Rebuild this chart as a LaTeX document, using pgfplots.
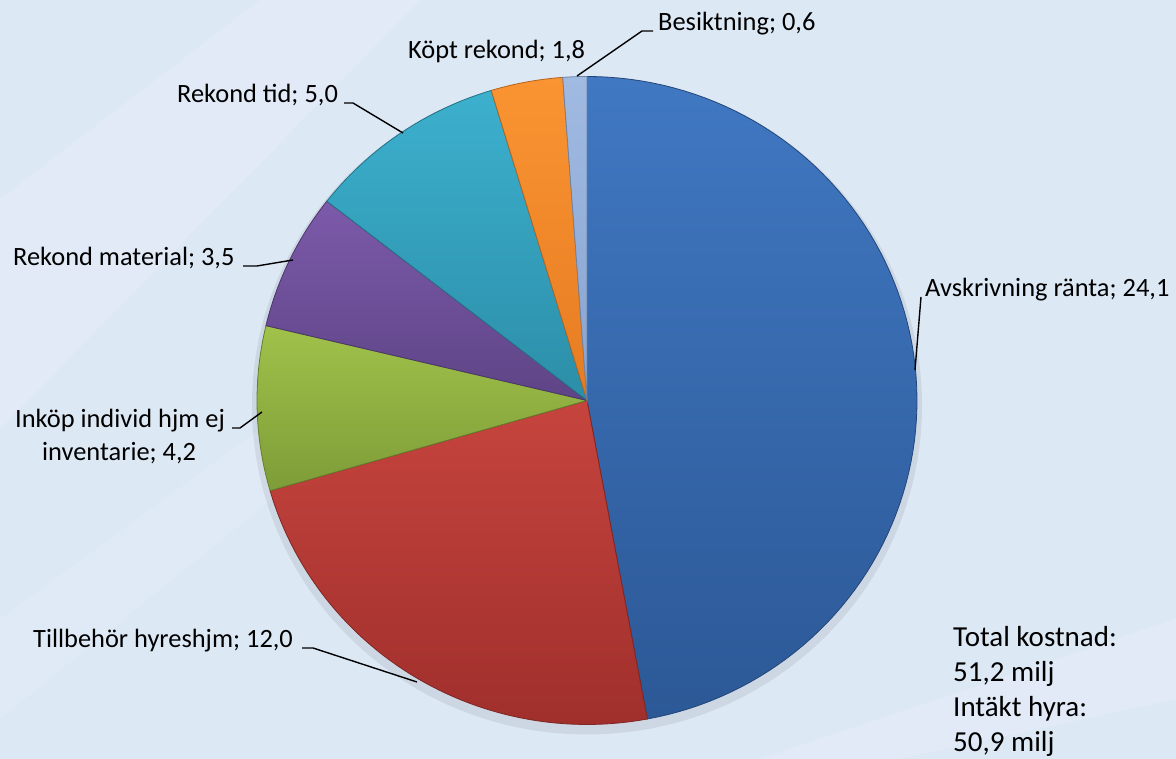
\documentclass[border=0pt]{standalone}
\usepackage{pgfplots}
\usepackage{pgfplotstable}
\pgfplotsset{compat=1.18}
\usepackage{fontspec}
\setmainfont{Carlito}

\definecolor{bgc}{RGB}{221,232,245}
\definecolor{bluehi}{RGB}{64,120,194}
\definecolor{bluelo}{RGB}{44,88,150}
\definecolor{redhi}{RGB}{198,68,62}
\definecolor{redlo}{RGB}{160,47,44}
\definecolor{greenhi}{RGB}{160,194,74}
\definecolor{greenlo}{RGB}{126,156,56}
\definecolor{purphi}{RGB}{124,90,170}
\definecolor{purplo}{RGB}{94,68,134}
\definecolor{tealhi}{RGB}{60,176,206}
\definecolor{teallo}{RGB}{44,142,168}
\definecolor{orghi}{RGB}{250,148,50}
\definecolor{orglo}{RGB}{230,124,34}
\definecolor{lbhi}{RGB}{160,186,226}
\definecolor{lblo}{RGB}{136,164,208}

\pgfplotstableread{
val
24.1
12.0
4.2
3.5
5.0
1.8
0.6
}\piedata

\newcommand\getval[2]{\pgfplotstablegetelem{#1}{val}\of\piedata\global\let#2\pgfplotsretval}
\getval{0}\vA \getval{1}\vB \getval{2}\vC \getval{3}\vD
\getval{4}\vE \getval{5}\vF \getval{6}\vG
\pgfmathsetmacro\tot{\vA+\vB+\vC+\vD+\vE+\vF+\vG}
\pgfmathsetmacro\aA{90}
\pgfmathsetmacro\aB{\aA-\vA/\tot*360}
\pgfmathsetmacro\aC{\aB-\vB/\tot*360}
\pgfmathsetmacro\aD{\aC-\vC/\tot*360}
\pgfmathsetmacro\aE{\aD-\vD/\tot*360}
\pgfmathsetmacro\aF{\aE-\vE/\tot*360}
\pgfmathsetmacro\aG{\aF-\vF/\tot*360}
\pgfmathsetmacro\aH{\aG-\vG/\tot*360}

\def\cx{587}
\def\cy{358.5}
\def\rx{330}
\def\ry{324}

\tikzset{
  slice/.style n args={2}{top color=#1, bottom color=#2, draw=#2!80!black, line width=0.8pt},
  leader/.style={black, line width=1.4pt},
  lab/.style={anchor=base west, inner sep=0pt, font=\fontsize{26.4}{31}\selectfont},
  tot/.style={anchor=base west, inner sep=0pt, font=\fontsize{29}{35}\selectfont},
}

\begin{document}
\begin{tikzpicture}
\begin{axis}[
  width=1176pt, height=759pt, scale only axis,
  xmin=0, xmax=1176, ymin=0, ymax=759,
  axis lines=none, xtick=\empty, ytick=\empty,
  clip=true,
]
% background
\fill[bgc] (rel axis cs:0,0) rectangle (rel axis cs:1,1);
\fill[white, opacity=0.12] (axis cs:0,330) -- (axis cs:0,560) -- (axis cs:260,759) -- (axis cs:420,759) -- cycle;
\fill[white, opacity=0.10] (axis cs:0,40) -- (axis cs:0,140) -- (axis cs:520,520) -- (axis cs:470,420) -- cycle;
\fill[white, opacity=0.12] (axis cs:760,0) -- (axis cs:1176,140) -- (axis cs:1176,60) -- (axis cs:900,0) -- cycle;
% shadow
\fill[black, opacity=0.07] (axis cs:\cx,\cy-5) ellipse [x radius=335, y radius=329];

\addplot[slice={bluehi}{bluelo}, samples=90, domain=\aB:\aA] ({\cx+\rx*cos(x)},{\cy+\ry*sin(x)}) -- (axis cs:\cx,\cy) -- cycle;
\addplot[slice={redhi}{redlo}, samples=60, domain=\aC:\aB] ({\cx+\rx*cos(x)},{\cy+\ry*sin(x)}) -- (axis cs:\cx,\cy) -- cycle;
\addplot[slice={greenhi}{greenlo}, samples=30, domain=\aD:\aC] ({\cx+\rx*cos(x)},{\cy+\ry*sin(x)}) -- (axis cs:\cx,\cy) -- cycle;
\addplot[slice={purphi}{purplo}, samples=30, domain=\aE:\aD] ({\cx+\rx*cos(x)},{\cy+\ry*sin(x)}) -- (axis cs:\cx,\cy) -- cycle;
\addplot[slice={tealhi}{teallo}, samples=30, domain=\aF:\aE] ({\cx+\rx*cos(x)},{\cy+\ry*sin(x)}) -- (axis cs:\cx,\cy) -- cycle;
\addplot[slice={orghi}{orglo}, samples=15, domain=\aG:\aF] ({\cx+\rx*cos(x)},{\cy+\ry*sin(x)}) -- (axis cs:\cx,\cy) -- cycle;
\addplot[slice={lbhi}{lblo}, samples=8, domain=\aH:\aG] ({\cx+\rx*cos(x)},{\cy+\ry*sin(x)}) -- (axis cs:\cx,\cy) -- cycle;

% leader lines
\addplot[leader] coordinates {(653,728) (642,728) (577,683)};
\addplot[leader] coordinates {(344,656) (353,656) (403,626)};
\addplot[leader] coordinates {(243,493) (257,493) (293,499)};
\addplot[leader] coordinates {(232,331) (240,331) (262,347)};
\addplot[leader] coordinates {(302,111) (313,111) (417,77)};
\addplot[leader] coordinates {(921,462) (915,389)};

% labels
\node[lab] at (axis cs:658,728) {Besiktning; 0,6};
\node[lab] at (axis cs:408,700) {Köpt rekond; 1,8};
\node[lab] at (axis cs:177,656) {Rekond tid; 5,0};
\node[lab] at (axis cs:13,493) {Rekond material; 3,5};
\node[lab] at (axis cs:15,331) {Inköp individ hjm ej};
\node[lab] at (axis cs:42,298) {inventarie; 4,2};
\node[lab] at (axis cs:33,111) {Tillbehör hyreshjm; 12,0};
\node[lab] at (axis cs:925,462) {Avskrivning ränta; 24,1};

\node[tot] at (axis cs:953,112) {Total kostnad:};
\node[tot] at (axis cs:953,77) {51,2 milj};
\node[tot] at (axis cs:953,42) {Intäkt hyra:};
\node[tot] at (axis cs:953,7) {50,9 milj};
\end{axis}
\end{tikzpicture}
\end{document}
